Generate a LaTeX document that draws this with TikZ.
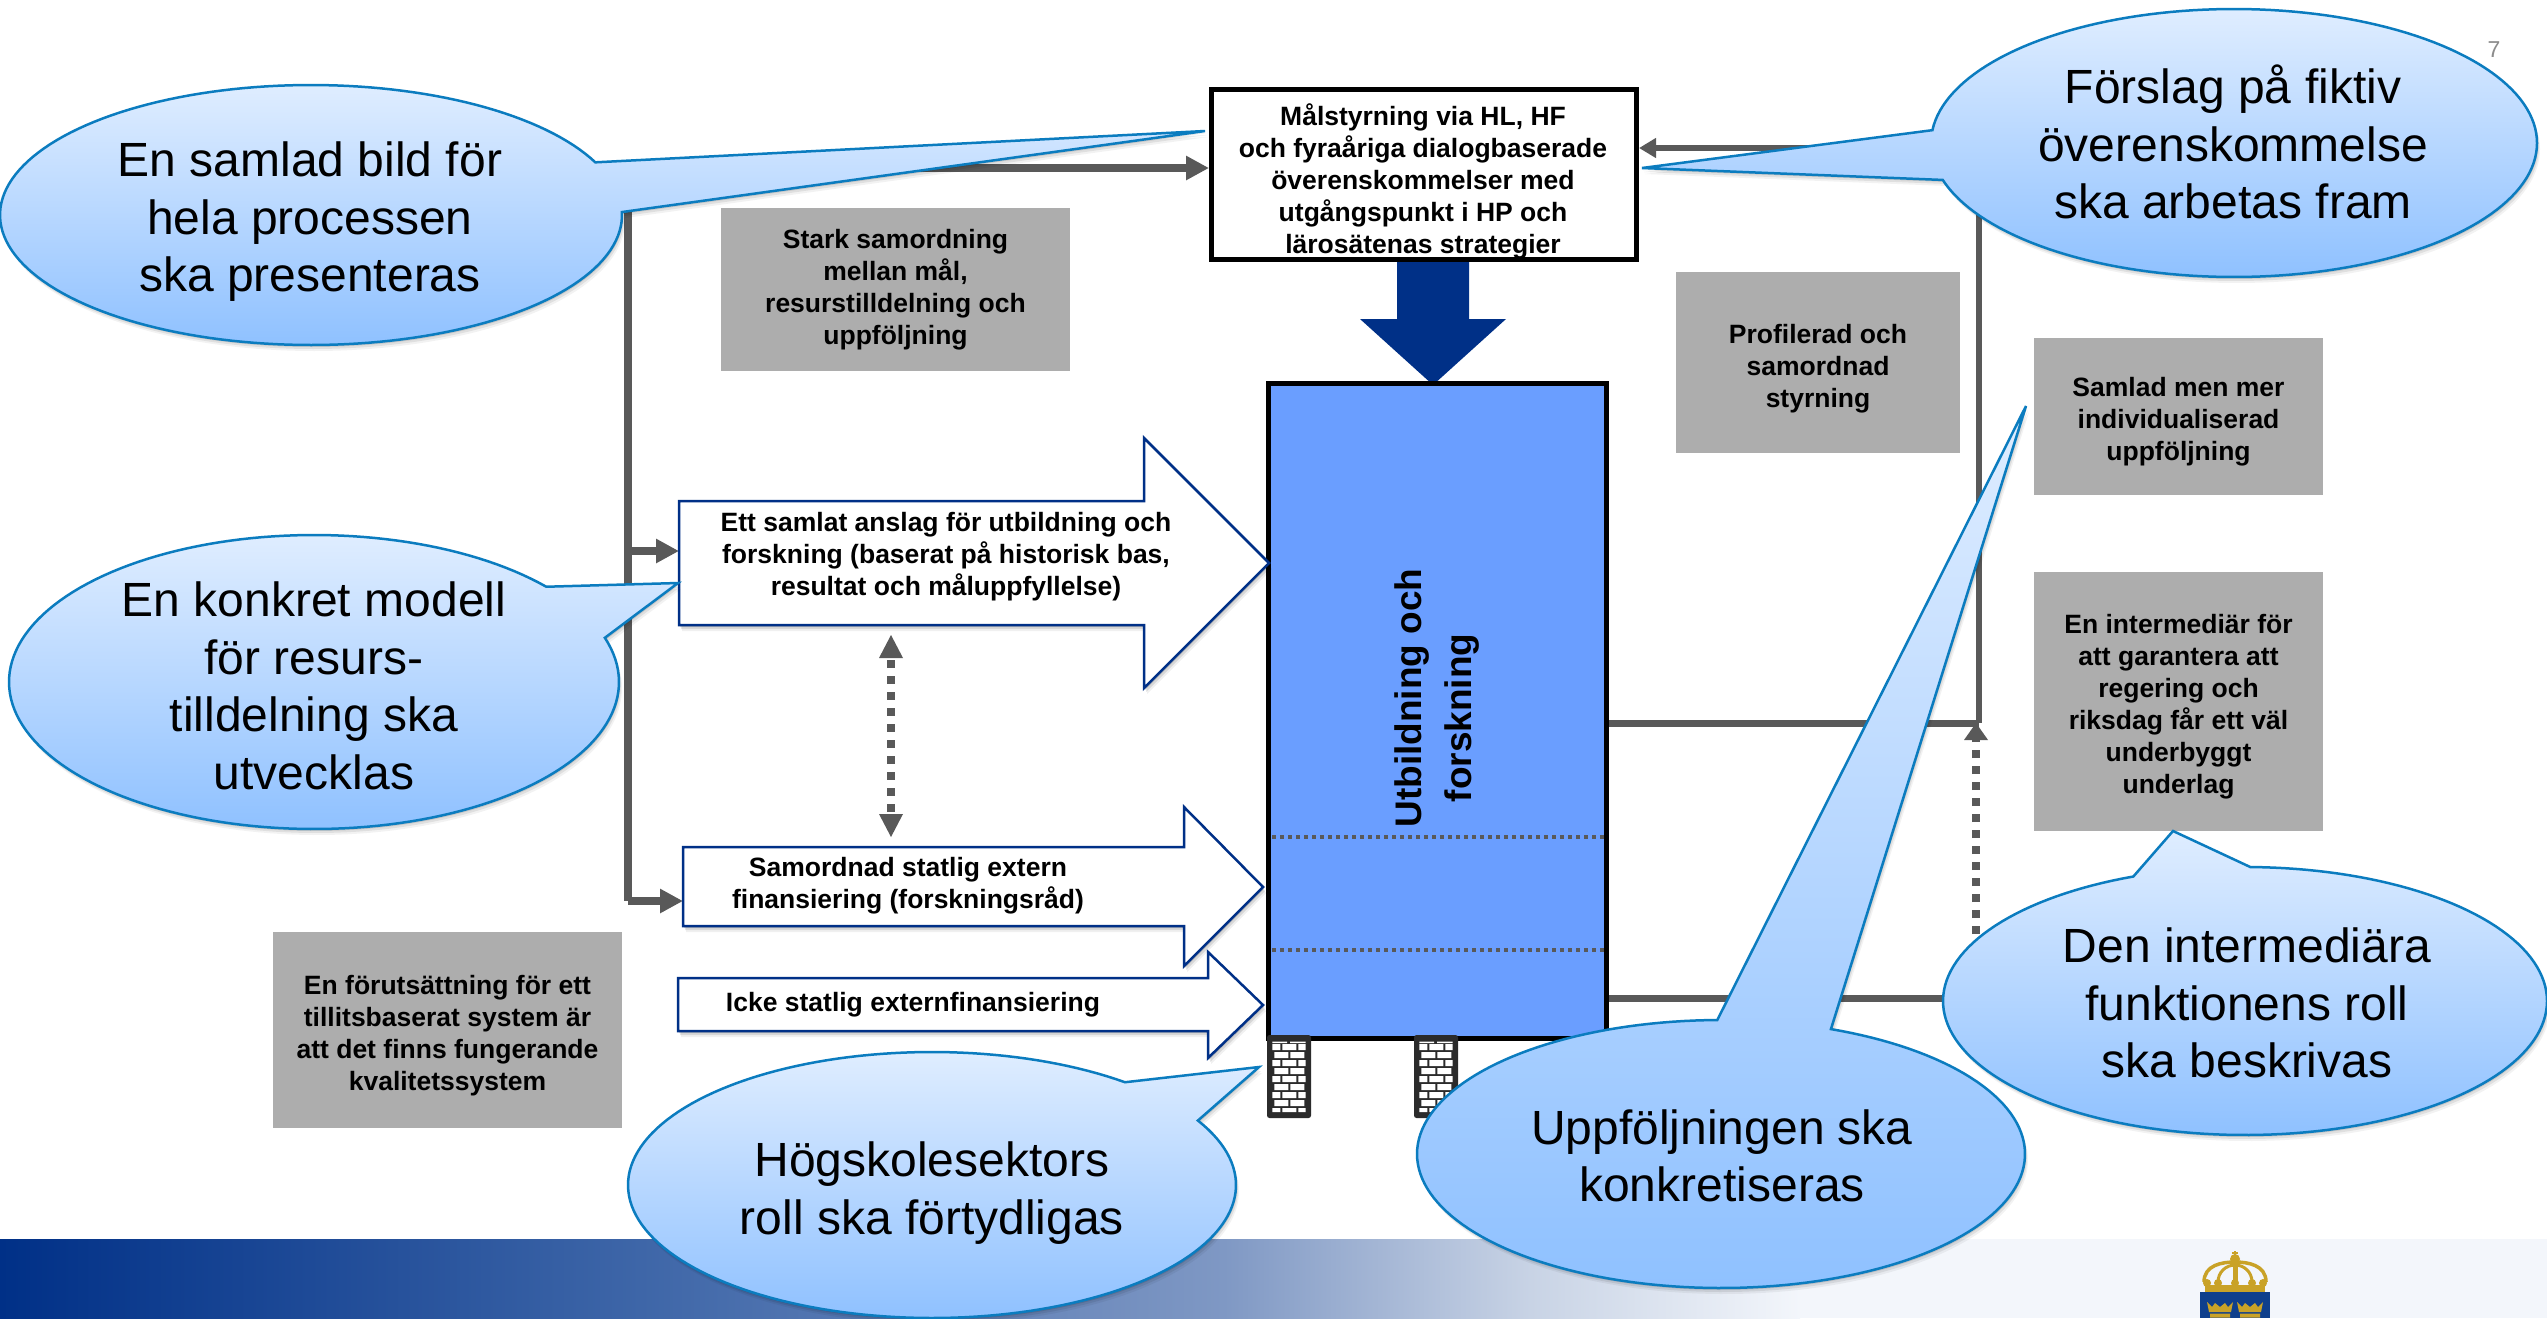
\documentclass[tikz,border=0pt]{standalone}
\usepackage{fontspec}
\setmainfont{Liberation Sans}
\usetikzlibrary{arrows.meta,shapes.geometric}
\definecolor{navy}{HTML}{003087}
\definecolor{conn}{HTML}{595959}
\definecolor{greyb}{HTML}{ADADAD}
\definecolor{boxblue}{HTML}{6A9EFF}
\definecolor{callline}{HTML}{0B7CBF}
\definecolor{calltop}{HTML}{DFEDFF}
\definecolor{callbot}{HTML}{8FC1FF}
\definecolor{footend}{HTML}{F3F6FB}
\definecolor{foota}{HTML}{3E66A8}
\definecolor{footb}{HTML}{7F98C4}
\definecolor{footc}{HTML}{C8D3E5}
\definecolor{gold}{HTML}{C9A227}
\definecolor{shield}{HTML}{0F3F8C}
\definecolor{pier}{HTML}{2B2B2B}
\pgfdeclarehorizontalshading{footshade}{100bp}{color(0bp)=(navy); color(25bp)=(navy); color(42.8bp)=(foota); color(59bp)=(footb); color(67.5bp)=(footc); color(75bp)=(footend); color(100bp)=(footend)}
\tikzset{
  greybox/.style={fill=greyb,inner sep=0pt,align=center,font=\fontsize{26.5}{32}\selectfont\bfseries},
  labeltext/.style={inner sep=0pt,align=center,font=\fontsize{26.5}{32}\selectfont\bfseries},
  calltext/.style={inner sep=0pt,align=center,font=\fontsize{48}{57.5}\selectfont},
  flowline/.style={draw=conn,line width=8pt},
  flowtip/.style={-{Triangle[length=23pt,width=23pt]}},
  dotline/.style={draw=conn,line width=8pt,dash pattern=on 8pt off 8pt},
  whitearrow/.style={fill=white,draw=navy,line width=2.5pt,line join=miter},
  sep/.style={draw=conn,line width=4pt,dash pattern=on 4pt off 4pt},
}
\newcommand\callout[8]{%
  \foreach \dx/\dy/\op in {1/2/.10,2/4/.08,3/6/.05}{%
    \fill[black,opacity=\op,shift={(\dx,\dy)}] plot[domain=#5:#6,samples=160] ({#1+#3*cos(\x)},{#2+#4*sin(\x)}) -- (#7,#8) -- cycle;
  }%
  \draw[draw=callline,line width=2.5pt,line join=miter,top color=calltop,bottom color=callbot] plot[domain=#5:#6,samples=160] ({#1+#3*cos(\x)},{#2+#4*sin(\x)}) -- (#7,#8) -- cycle;
}
\newcommand\bigarrow[8]{% left, top, bottom, headx, headtop, headbot, tipx, tipy
  \foreach \dx/\dy/\op in {1/2/.12,2/4/.10,3/6/.06}{%
    \fill[black,opacity=\op,shift={(\dx,\dy)}] (#1,#2) -- (#4,#2) -- (#4,#5) -- (#7,#8) -- (#4,#6) -- (#4,#3) -- (#1,#3) -- cycle;
  }%
  \draw[whitearrow] (#1,#2) -- (#4,#2) -- (#4,#5) -- (#7,#8) -- (#4,#6) -- (#4,#3) -- (#1,#3) -- cycle;
}
\newcommand\pierbricks[1]{%
  \fill[pier,rounded corners=2.5pt] (#1,1035) rectangle ++(44,83);
  \begin{scope}[shift={(#1,1035)}]
    \fill[white] (5.3,6.7) rectangle (20,8) (23,6.7) rectangle (38.7,8);
    \foreach \r in {0,2,4,6}{%
      \fill[white] (5.3,9+\r*8) rectangle (13.3,15+\r*8) (15.3,9+\r*8) rectangle (29.3,15+\r*8) (31.3,9+\r*8) rectangle (38.7,15+\r*8);
      \fill[white] (7.3,17+\r*8) rectangle (21.3,23+\r*8) (23.3,17+\r*8) rectangle (37.3,23+\r*8);
    }
    \fill[white] (5.3,73) rectangle (13.3,77) (15.3,73) rectangle (29.3,77) (31.3,73) rectangle (38.7,77);
  \end{scope}
}
\newcommand\minicrown[1]{%
  \fill[gold,shift={(#1,1302)}] (0,0) -- (5,5) -- (8,1) -- (13,5) -- (18,1) -- (21,5) -- (26,0) -- (24,10) -- (2,10) -- cycle (3,11.5) rectangle (23,15.5);
}
\begin{document}
\begin{tikzpicture}[x=1pt,y=-1pt]
\useasboundingbox (0,0) rectangle (2547,1318);
\fill[white] (0,0) rectangle (2547,1318);
% footer band
\shade[shading=footshade] (0,1239) rectangle (1800,1318);
\fill[footend] (1800,1239) rectangle (2547,1318);
% coat of arms
\fill[shield] (2200,1292) rectangle (2270,1318);
\minicrown{2207}\minicrown{2237}
\fill[gold] (2205,1285) rectangle (2265,1292);
\foreach \bx in {2207,2218,2235,2252,2263}{\fill[gold] (\bx,1283) circle (4pt);}
\draw[gold,line width=3.5pt] (2204,1282) .. controls (2204,1265) and (2222,1262) .. (2235,1262) .. controls (2248,1262) and (2266,1265) .. (2266,1282);
\draw[gold,line width=3pt] (2218,1282) .. controls (2218,1272) and (2226,1265) .. (2235,1265) .. controls (2244,1265) and (2252,1272) .. (2252,1282);
\draw[gold,line width=5pt] (2235,1262) -- (2235,1282);
\fill[gold] (2235,1259) circle (5pt);
\draw[gold,line width=1.5pt] (2235,1251) -- (2235,1256) (2232,1253) -- (2238,1253);
% page number
\node[inner sep=0pt,text=black!45,font=\fontsize{23}{27}\selectfont] (pageno) at (2494,50) {7};

% big navy arrow
\fill[navy] (1397,262) -- (1469,262) -- (1469,319) -- (1506,319) -- (1433,385) -- (1360,319) -- (1397,319) -- cycle;

% main nodes
\node[fill=white,draw=black,line width=5pt,minimum width=425pt,minimum height=170pt,inner sep=0pt] (mal) at (1424,174.5) {};
\node[fill=boxblue,draw=black,line width=5pt,minimum width=338pt,minimum height=655pt,inner sep=0pt] (edu) at (1437.5,710.5) {};
\coordinate (a1w) at (679,551);
\coordinate (a2w) at (683,901);
\coordinate (jtop) at (628,168);
\coordinate (jmid) at (628,551);
\coordinate (jbot) at (628,901);
\coordinate (jr) at (1979,723);
\coordinate (jrtop) at (1979,148);
\coordinate (jbr) at (1976,998);
\coordinate (dtop) at (891,635);
\coordinate (dbot) at (891,837);

% connectors
\draw[flowline,flowtip] (jtop) -- (mal.west |- jtop);
\draw[flowline] (jtop) -- (jbot);
\draw[flowline,flowtip] (jmid) -- (a1w);
\draw[flowline,flowtip] (jbot) -- (a2w);
\draw[draw=conn,line width=7pt] (edu.east |- jr) -- (jr);
\draw[draw=conn,line width=6pt] (jr) -- (jrtop);
\draw[draw=conn,line width=6pt,-{Triangle[length=17pt,width=19pt]}] (jrtop) -- (mal.east |- jrtop);
\draw[draw=conn,line width=7pt] (edu.east |- jbr) -- (jbr);
\draw[dotline] (jbr) -- (1976,740);
\fill[conn] (1976,723) -- (1988,740) -- (1964,740) -- cycle;
\draw[dotline] (891,660) -- (891,815);
\fill[conn] (dtop) -- (903,658) -- (879,658) -- cycle;
\fill[conn] (dbot) -- (903,814) -- (879,814) -- cycle;

% white arrows
\bigarrow{679}{501}{625}{1144}{438}{688}{1269}{563}
\bigarrow{683}{847}{926}{1184}{807}{966}{1263}{887}
\bigarrow{678}{978}{1031}{1208}{952}{1058}{1263}{1005}
\node[labeltext] (a1t) at (946,556.5) {Ett samlat anslag för utbildning och\\forskning (baserat på historisk bas,\\resultat och måluppfyllelse)};
\node[labeltext] (a2t) at (908,886) {Samordnad statlig extern\\finansiering (forskningsråd)};
\node[labeltext] (a3t) at (913,1005) {Icke statlig externfinansiering};

% separators in main box
\coordinate (s1) at (1272,837);
\coordinate (s2) at (1272,950);
\draw[sep] (s1) -- (1604,837);
\draw[sep] (s2) -- (1604,950);
\node[labeltext,rotate=90,font=\fontsize{37}{50}\selectfont\bfseries] (edut) at (1437,718) {\hspace*{40pt}Utbildning och\\forskning};
\node[labeltext] (malt) at (1423,181) {Målstyrning via HL, HF\\och fyraåriga dialogbaserade\\överenskommelser med\\utgångspunkt i HP och\\lärosätenas strategier};

% piers
\pierbricks{1267}
\pierbricks{1414}

% grey boxes
\node[greybox,minimum width=349pt,minimum height=163pt] (g1) at (895.5,289.5) {Stark samordning\\mellan mål,\\resurstilldelning och\\uppföljning};
\node[greybox,minimum width=284pt,minimum height=181pt] (g2) at (1818,362.5) {\rule{0pt}{31pt}Profilerad och\\samordnad\\styrning};
\node[greybox,minimum width=289pt,minimum height=157pt] (g3) at (2178.5,416.5) {\rule{0pt}{30pt}Samlad men mer\\individualiserad\\uppföljning};
\node[greybox,minimum width=289pt,minimum height=259pt] (g4) at (2178.5,701.5) {\rule{0pt}{30pt}En intermediär för\\att garantera att\\regering och\\riksdag får ett väl\\underbyggt\\underlag};
\node[greybox,minimum width=349pt,minimum height=196pt] (g5) at (447.5,1029.5) {\rule{0pt}{32pt}En förutsättning för ett\\tillitsbaserat system är\\att det finns fungerande\\kvalitetssystem};

% callouts
\callout{311}{215}{311}{130}{-1.3}{336.1}{1205}{131}
\node[calltext] (c1) at (310,222) {En samlad bild för\\hela processen\\ska presenteras};
\callout{2234}{143}{303}{134}{185.5}{524}{1642}{168}
\node[calltext] (c2) at (2233,142) {Förslag på fiktiv\\överenskommelse\\ska arbetas fram};
\callout{314}{682}{305}{147}{-17.5}{319.6}{678}{583}
\node[calltext] (c3) at (314,686) {En konkret modell\\för resurs-\\tilldelning ska\\utvecklas};
\callout{932}{1185}{304}{133}{-29}{309.4}{1259}{1067}
\node[calltext] (c4) at (932,1193) {Högskolesektors\\roll ska förtydligas};
\callout{1721}{1154}{304}{134}{-68.8}{269.3}{2026}{406}
\node[calltext] (c5) at (1722,1156) {Uppföljningen ska\\konkretiseras};
\callout{2245}{1001}{302}{134}{-89}{248.3}{2173}{831}
\node[calltext] (c6) at (2247,1003) {Den intermediära\\funktionens roll\\ska beskrivas};
\end{tikzpicture}
\end{document}
